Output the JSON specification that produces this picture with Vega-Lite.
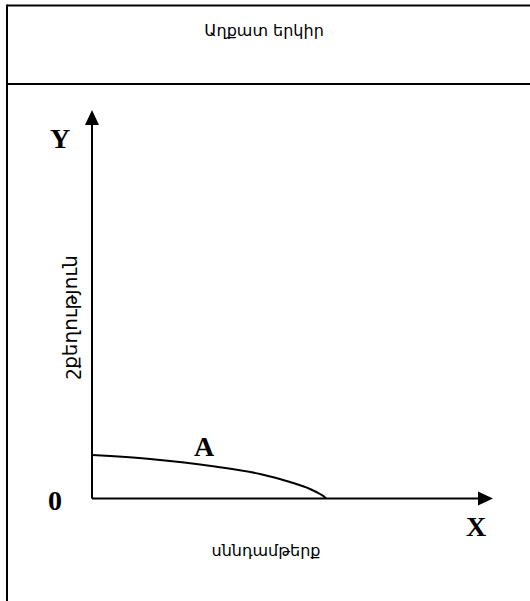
{
  "$schema": "https://vega.github.io/schema/vega-lite/v6.json",
  "width": 530,
  "height": 601,
  "padding": 0,
  "autosize": {"type": "none"},
  "background": "white",
  "config": {"view": {"stroke": null}},
  "datasets": {
    "segments": [
      {"x": -85, "y": 493, "x2": 438, "y2": 493},
      {"x": -85, "y": 414.5, "x2": 438, "y2": 414.5},
      {"x": -85, "y": 494, "x2": -85, "y2": -102.5},
      {"x": 0, "y": 0, "x2": 0, "y2": 376},
      {"x": 0, "y": 0, "x2": 386, "y2": 0}
    ],
    "arrows": [
      {"x": 0, "y": 381, "dir": "up"},
      {"x": 393.5, "y": 0, "dir": "right"}
    ],
    "curve": [
      {"x": 0, "y": 43.5},
      {"x": 58, "y": 39.5},
      {"x": 123, "y": 32},
      {"x": 168, "y": 24.5},
      {"x": 198, "y": 16.5},
      {"x": 218, "y": 9.5},
      {"x": 228, "y": 4.5},
      {"x": 232, "y": 2},
      {"x": 234, "y": 0}
    ],
    "letters": [
      {"x": -32, "y": 358.5, "t": "Y"},
      {"x": -37, "y": -3.5, "t": "0"},
      {"x": 384, "y": -29.5, "t": "X"},
      {"x": 112, "y": 50.5, "t": "A"}
    ],
    "texts": [
      {"x": 172, "y": 467.5, "t": "Աղքատ երկիր"},
      {"x": 174, "y": -52.5, "t": "սննդամթերք"}
    ],
    "ytitle": [
      {"x": -21, "y": 181.5, "t": "շքեղություն"}
    ]
  },
  "layer": [
    {
      "data": {"name": "segments"},
      "mark": {"type": "rule", "color": "black", "strokeWidth": 2},
      "encoding": {
        "x": {"field": "x", "type": "quantitative", "scale": {"domain": [-92, 438]}, "axis": null},
        "x2": {"field": "x2"},
        "y": {"field": "y", "type": "quantitative", "scale": {"domain": [-102.5, 498.5]}, "axis": null},
        "y2": {"field": "y2"}
      }
    },
    {
      "data": {"name": "arrows"},
      "transform": [{"filter": "datum.dir === 'up'"}],
      "mark": {"type": "point", "filled": true, "color": "black", "opacity": 1, "size": 225, "shape": "M0,-1L-0.933,1L0.933,1Z"},
      "encoding": {
        "x": {"field": "x", "type": "quantitative", "scale": {"domain": [-92, 438]}, "axis": null},
        "y": {"field": "y", "type": "quantitative", "scale": {"domain": [-102.5, 498.5]}, "axis": null}
      }
    },
    {
      "data": {"name": "arrows"},
      "transform": [{"filter": "datum.dir === 'right'"}],
      "mark": {"type": "point", "filled": true, "color": "black", "opacity": 1, "size": 225, "shape": "M1,0L-1,-0.933L-1,0.933Z"},
      "encoding": {
        "x": {"field": "x", "type": "quantitative", "scale": {"domain": [-92, 438]}, "axis": null},
        "y": {"field": "y", "type": "quantitative", "scale": {"domain": [-102.5, 498.5]}, "axis": null}
      }
    },
    {
      "data": {"name": "curve"},
      "mark": {"type": "line", "color": "black", "strokeWidth": 2, "interpolate": "monotone"},
      "encoding": {
        "x": {"field": "x", "type": "quantitative", "scale": {"domain": [-92, 438]}, "axis": null},
        "y": {"field": "y", "type": "quantitative", "scale": {"domain": [-102.5, 498.5]}, "axis": null}
      }
    },
    {
      "data": {"name": "letters"},
      "mark": {"type": "text", "font": "Liberation Serif", "fontWeight": "bold", "fontSize": 28, "align": "center", "baseline": "middle", "color": "black"},
      "encoding": {
        "x": {"field": "x", "type": "quantitative", "scale": {"domain": [-92, 438]}, "axis": null},
        "y": {"field": "y", "type": "quantitative", "scale": {"domain": [-102.5, 498.5]}, "axis": null},
        "text": {"field": "t"}
      }
    },
    {
      "data": {"name": "texts"},
      "mark": {"type": "text", "font": "DejaVu Sans", "fontSize": 16, "align": "center", "baseline": "middle", "color": "black"},
      "encoding": {
        "x": {"field": "x", "type": "quantitative", "scale": {"domain": [-92, 438]}, "axis": null},
        "y": {"field": "y", "type": "quantitative", "scale": {"domain": [-102.5, 498.5]}, "axis": null},
        "text": {"field": "t"}
      }
    },
    {
      "data": {"name": "ytitle"},
      "mark": {"type": "text", "font": "DejaVu Sans", "fontSize": 20, "angle": 270, "align": "center", "baseline": "middle", "color": "black"},
      "encoding": {
        "x": {"field": "x", "type": "quantitative", "scale": {"domain": [-92, 438]}, "axis": null},
        "y": {"field": "y", "type": "quantitative", "scale": {"domain": [-102.5, 498.5]}, "axis": null},
        "text": {"field": "t"}
      }
    }
  ]
}
